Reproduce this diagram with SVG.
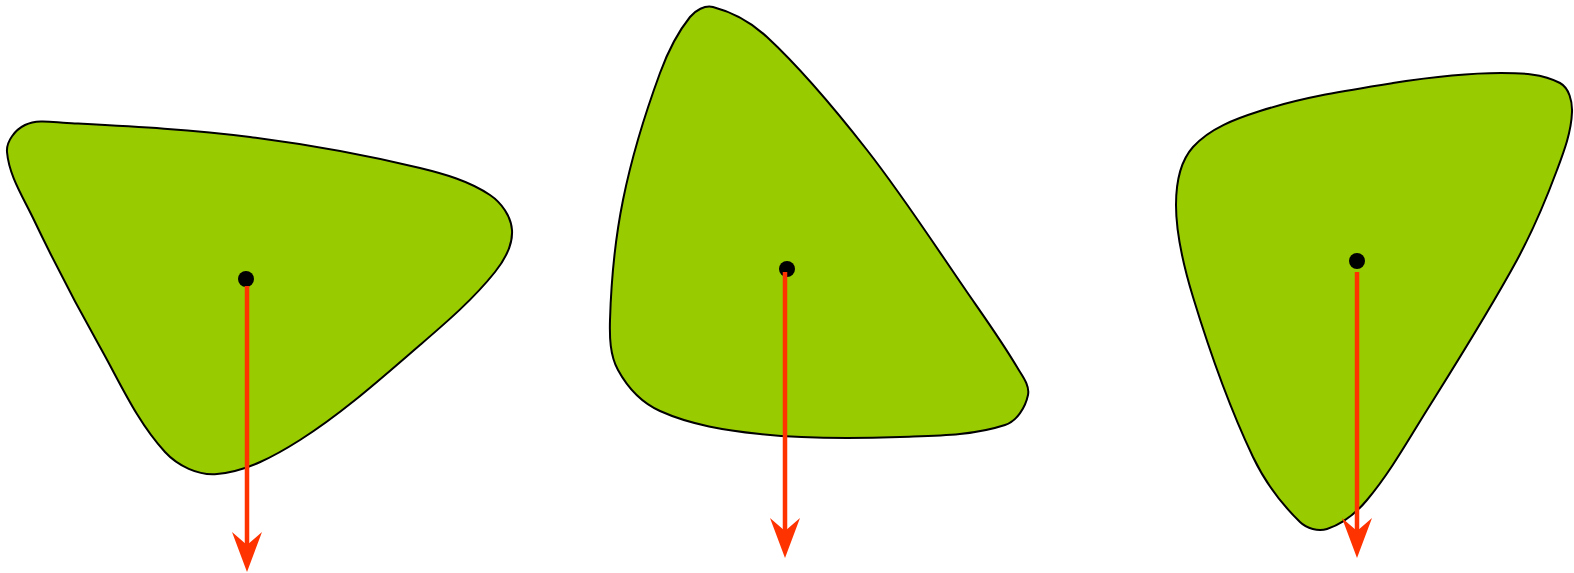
<svg xmlns="http://www.w3.org/2000/svg" width="1574" height="573" viewBox="0 0 1574 573">
<style>
.shape{fill:#99cc00;stroke:#000;stroke-width:2;stroke-linejoin:round}
.dot{fill:#000}
.force{stroke:#ff3300;stroke-width:4.5;fill:none;marker-end:url(#head)}
</style>
<defs>
<marker id="head" markerUnits="userSpaceOnUse" viewBox="-15 -20 45 40" markerWidth="45" markerHeight="40" refX="0" refY="0" orient="auto" overflow="visible">
<path d="M27,0 L-13,-15 L0,0 L-13,15 Z" fill="#ff3300"/>
</marker>
</defs>
<rect width="1574" height="573" fill="#fff"/>
<g id="body1">
<path class="shape" d="M67,123 C128.1,126.3 189.3,129.3 250,137 C307.1,144.3 364,154.5 420,168 C444.3,173.9 469.3,181 490,195 C501.4,202.7 511.1,216.2 512,230 C513,245.1 504.4,260.2 495,272 C473.2,299.3 446.5,322.2 420,345 C381.3,378.3 343,412.7 300,440 C274.8,456 246.8,471.3 217,474 C198.3,475.7 177.7,465.8 165,452 C137.1,421.7 120.2,382.9 100,347 C76.2,304.8 53.9,261.8 33,218 C22.8,196.7 9,175.5 7,152 C6.1,141.2 15.3,129.7 25,125 C37.6,118.9 53,122.3 67,123 Z"/>
<circle class="dot" cx="246" cy="279" r="8"/>
</g>
<g id="body2">
<path class="shape" d="M713,7 C732.9,12.2 751.9,23 767,37 C803.9,71.2 836,110.4 867,150 C902.7,195.6 934.1,244.3 967,292 C984.1,316.7 1001.7,341.2 1017,367 C1022.1,375.6 1030,385.2 1028,395 C1025.4,407.3 1017,421.1 1005,425 C971.6,436 935.2,435.7 900,437 C853.3,438.7 806.4,439 760,434 C726,430.3 691.2,425.1 660,411 C642.1,402.9 627.4,387.2 618,370 C609.9,355.2 609.5,336.9 610,320 C611.2,279.8 615,239.4 623,200 C631.7,156.8 644.8,114.4 660,73 C667.3,53.1 676.7,33.5 690,17 C695.3,10.4 704.9,4.9 713,7 Z"/>
<circle class="dot" cx="787" cy="269" r="8"/>
</g>
<g id="body3">
<path class="shape" d="M1501,73 C1520.9,73 1542.5,73.4 1560,83 C1569.2,88.1 1572.4,101.5 1572,112 C1571.3,132 1564,151.3 1557,170 C1545.6,200.7 1532.6,231.2 1517,260 C1489.2,311.2 1457.9,360.6 1427,410 C1407.9,440.6 1390.2,472.3 1367,500 C1356.4,512.6 1342.7,523.9 1327,529 C1318.2,531.9 1306.7,528.5 1300,522 C1280.9,503.4 1264.5,481.1 1253,457 C1228.5,405.5 1209.6,351.5 1193,297 C1183.9,267.2 1176,236.2 1176,205 C1176,184.9 1179.6,162 1193,147 C1209.9,128.1 1235.8,118.7 1260,111 C1303.1,97.2 1348.2,90.1 1393,83 C1428.8,77.4 1464.8,73 1501,73 Z"/>
<circle class="dot" cx="1357" cy="261" r="8"/>
</g>
<g id="connectors">
<line class="force" x1="247" y1="286" x2="247" y2="545"/>
<line class="force" x1="785" y1="272" x2="785" y2="531"/>
<line class="force" x1="1357" y1="272" x2="1357" y2="531"/>
</g>
</svg>
